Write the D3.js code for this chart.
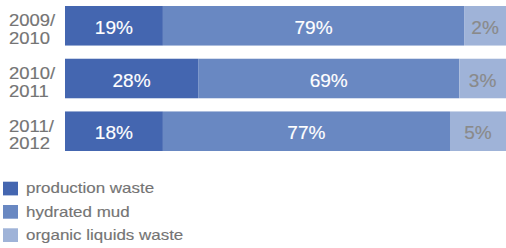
<!DOCTYPE html>
<html><head><meta charset="utf-8">
<script src="https://cdn.jsdelivr.net/npm/d3@7"></script>
<style>html,body{margin:0;padding:0;background:#fff;}svg{display:block;font-family:"Liberation Sans",Arial,Helvetica,sans-serif;}</style>
</head><body>
<svg id="c" width="506" height="248"></svg>
<script>
// Categories (two-line year labels)
const years = [["2009/", "2010"], ["2010/", "2011"], ["2011/", "2012"]];
const seriesNames = ["production waste", "hydrated mud", "organic liquids waste"];
// Printed percentages
const productionPct = [19, 28, 18];
const mudPct = [79, 69, 77];
const organicPct = [2, 3, 5];
// Drawn segment lengths (share of bar length, %)
const productionLen = [22.2, 30.2, 22.2];
const mudLen = [68.3, 59.2, 65.1];
const organicLen = [9.5, 10.6, 12.7];

const colors = ["#4466b0", "#6988c2", "#9fb3d8"];
const labelColors = ["#ffffff", "#ffffff", "#8a8a8a"];

const svg = d3.select("#c");
const x = d3.scaleLinear().domain([0, 100]).range([65, 506]);
const y = d3.scaleBand().domain(d3.range(years.length)).range([6, 151]).paddingInner(0.25).paddingOuter(0);

const pcts = [productionPct, mudPct, organicPct];
const lens = [productionLen, mudLen, organicLen];

function wideText(parent, tx, ty, sx, size, fill, str, anchor) {
  const g = parent.append("g").attr("transform", `translate(${tx},${ty}) scale(${sx},1)`);
  return g.append("text").attr("x", 0).attr("y", 0).attr("fill", fill).attr("font-size", size)
    .attr("stroke", fill).attr("stroke-width", 0.15)
    .attr("text-anchor", anchor || "start").text(str);
}

years.forEach((yr, i) => {
  const g = svg.append("g");
  const cy = y(i) + y.bandwidth() / 2;
  wideText(g, 9, cy + 0.5, 1.12, 16.5, "#747474", yr[0]);
  wideText(g, 9, cy + 18, 1.12, 16.5, "#747474", yr[1]);
  let acc = 0;
  lens.forEach((arr, s) => {
    const x0 = x(acc), x1 = x(acc + arr[i]);
    g.append("rect").attr("x", x0).attr("y", y(i)).attr("width", x1 - x0).attr("height", y.bandwidth())
      .attr("fill", colors[s]);
    wideText(g, (x0 + x1) / 2, cy + 8, 1.06, 18, labelColors[s], pcts[s][i] + "%", "middle");
    acc += arr[i];
  });
});

const leg = svg.append("g");
seriesNames.forEach((n, s) => {
  const ly = 181.7 + s * 23.3;
  leg.append("rect").attr("x", 3).attr("y", ly).attr("width", 15).attr("height", 13.7).attr("fill", colors[s]);
  wideText(leg, 26, ly + 11.6, 1.13, 15, "#747474", n);
});
</script>
</body></html>
